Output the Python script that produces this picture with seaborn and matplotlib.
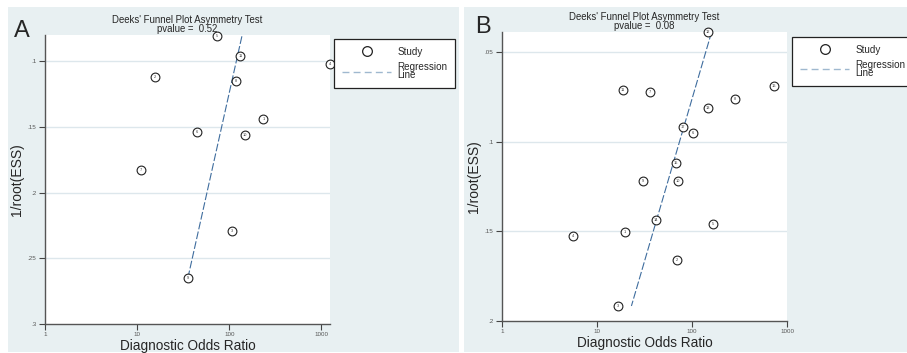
import numpy as np
import pandas as pd
import matplotlib
matplotlib.use("Agg")
import matplotlib.pyplot as plt
from matplotlib.patches import Rectangle
from matplotlib.lines import Line2D
from matplotlib.ticker import FixedLocator, NullLocator
import seaborn as sns

# panel A: study id, diagnostic odds ratio, 1/root(ESS)
study_a = [1, 2, 3, 4, 5, 6, 7, 8, 9, 10, 11]
dor_a = [235, 15.7, 108, 1230, 74, 45, 11, 118, 36, 147, 132]
ess_a = [0.144, 0.112, 0.229, 0.1023, 0.081, 0.154, 0.1826, 0.115, 0.265, 0.156, 0.0962]
pval_a = "0.52"
# regression line: log10(DOR) = intercept + slope * 1/root(ESS)
reg_a = (2.395, -3.186)

# panel B
study_b = [1, 2, 3, 4, 5, 6, 7, 8, 9, 10, 11, 12, 13, 14, 15, 16, 17]
dor_b = [19.7, 69, 16.8, 5.65, 167, 103, 36, 282, 30.7, 71.6, 18.9, 148, 148, 41.8, 68, 725, 80]
ess_b = [0.1506, 0.166, 0.1916, 0.1528, 0.1457, 0.0953, 0.0723, 0.0763, 0.1219, 0.1219,
         0.0711, 0.0387, 0.0813, 0.1435, 0.112, 0.0688, 0.0916]
pval_b = "0.08"
reg_b = (2.42, -5.52)

x_ticks = [1, 10, 100, 1000]
x_ticklabels = ["1", "10", "100", "1000"]
y_ticks_a = [0.1, 0.15, 0.2, 0.25, 0.3]
y_ticklabels_a = [".1", ".15", ".2", ".25", ".3"]
y_ticks_b = [0.05, 0.1, 0.15, 0.2]
y_ticklabels_b = [".05", ".1", ".15", ".2"]

sns.set_theme(style="white")
plt.rcParams["font.family"] = ["Liberation Sans", "DejaVu Sans"]

W, H = 907, 353
fig = plt.figure(figsize=(W / 100, H / 100), dpi=100)
fig.patch.set_facecolor("white")

bg = "#e8f0f2"
grid_c = "#dde7ec"
line_c = "#3f6d9e"


def px_rect(x0, y0, x1, y1):
    return [x0 / W, 1 - y1 / H, (x1 - x0) / W, (y1 - y0) / H]


for x0, x1 in [(8, 459), (464, 907)]:
    r = px_rect(x0, 7, x1, 352)
    fig.patches.append(Rectangle((r[0], r[1]), r[2], r[3], transform=fig.transFigure,
                                 facecolor=bg, edgecolor="none", zorder=-5))


def funnel(rect, study, dor, ess, reg, pval, xlim, ylim, yticks, yticklabels, letter, letter_xy, leg_anchor):
    ax = fig.add_axes(px_rect(*rect))
    ax.set_facecolor("white")
    df = pd.DataFrame({"study": study, "dor": dor, "ess": ess})
    for t in yticks:
        if t != ylim[0]:
            ax.axhline(t, color=grid_c, lw=1.0, zorder=0)
    sns.scatterplot(data=df, x="dor", y="ess", ax=ax, marker="o", s=40,
                    facecolor="white", edgecolor="#222222", linewidth=0.8,
                    zorder=3, clip_on=False, legend=False)
    for _, row in df.iterrows():
        ax.text(row["dor"], row["ess"], str(int(row["study"])), fontsize=2.8,
                ha="center", va="center", color="#333333", zorder=4, clip_on=False)
    yy = np.array([min(ess), max(ess)])
    xx = 10 ** (reg[0] + reg[1] * yy)
    sns.lineplot(x=xx, y=yy, sort=False, ax=ax, color=line_c, lw=0.8,
                 linestyle=(0, (7, 2)), zorder=2)
    ax.set_xscale("log")
    ax.set_xlim(*xlim)
    ax.set_ylim(*ylim)
    ax.xaxis.set_major_locator(FixedLocator(x_ticks))
    ax.xaxis.set_minor_locator(NullLocator())
    ax.set_xticklabels(x_ticklabels)
    ax.set_yticks(yticks)
    ax.set_yticklabels(yticklabels)
    ax.tick_params(axis="both", which="major", direction="out", length=4, width=0.8,
                   color="#444444", labelsize=4.5, labelcolor="#555555", pad=2,
                   bottom=True, left=True)
    for s in ["top", "right"]:
        ax.spines[s].set_visible(False)
    for s in ["left", "bottom"]:
        ax.spines[s].set_color("#555555")
        ax.spines[s].set_linewidth(1.0)
    ax.set_xlabel("Diagnostic Odds Ratio", fontsize=9.8, labelpad=1)
    ax.set_ylabel("1/root(ESS)", fontsize=10, labelpad=3)
    ax.set_title("Deeks' Funnel Plot Asymmetry Test\npvalue =  " + pval,
                 fontsize=6.9, pad=2, linespacing=0.95)
    fig.text(letter_xy[0] / W, 1 - letter_xy[1] / H, letter, fontsize=17,
             ha="left", va="center")
    handles = [Line2D([], [], marker="o", ls="none", markerfacecolor="white",
                      markeredgecolor="#222222", markersize=7, markeredgewidth=0.9),
               Line2D([], [], color="#9fb8cf", lw=1.0, ls=(0, (5, 3)))]
    leg = ax.legend(handles, ["Study", "Regression\nLine"], loc="upper left",
                    bbox_to_anchor=leg_anchor, fontsize=7.1, frameon=True,
                    fancybox=False, framealpha=1, edgecolor="#222222",
                    handlelength=5.0, handletextpad=0.6, borderpad=0.8,
                    labelspacing=0.5, borderaxespad=0)
    leg.get_frame().set_linewidth(0.9)
    for t in leg.get_texts():
        t.set_linespacing(0.8)
    return ax


funnel((45, 35, 330, 324), study_a, dor_a, ess_a, reg_a, pval_a,
       (1, 1240), (0.3, 0.08), y_ticks_a, y_ticklabels_a, "A", (14, 31), (1.014, 0.986))
funnel((502, 32, 787, 321), study_b, dor_b, ess_b, reg_b, pval_b,
       (1, 1000), (0.2, 0.0387), y_ticks_b, y_ticklabels_b, "B", (475, 27), (1.0175, 0.983))

fig.savefig("out.png", dpi=100, facecolor=fig.get_facecolor())
